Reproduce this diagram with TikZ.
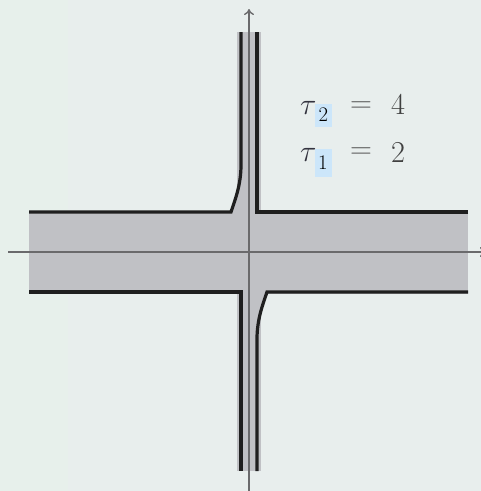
\documentclass[tikz,border=0pt]{standalone}
\usepackage{graphicx}
\usepackage{xcolor}
\usetikzlibrary{arrows.meta}
\definecolor{bgA}{HTML}{E7F0EB}
\definecolor{bgB}{HTML}{E8EEED}
\definecolor{band}{HTML}{C0C1C5}
\definecolor{axisc}{HTML}{6A6A6C}
\definecolor{hl}{HTML}{CCE6FA}
\definecolor{taucol}{HTML}{33333F}
\definecolor{eqcol}{HTML}{5E5E5E}
\definecolor{digcol}{HTML}{404040}
\newcommand{\lblmath}[1]{\scalebox{1.22}{\Huge$#1$}}
\begin{document}
\begin{tikzpicture}[x=1pt,y=-1pt,
  axisline/.style={draw=axisc,line width=1.4pt},
  edgeline/.style={draw=black!88,line width=3.2pt},
  bigtxt/.style={inner sep=0pt},
  subbox/.style={fill=hl,inner sep=0pt,minimum width=17pt,minimum height=23pt,font=\huge,text=black},
  eqsign/.style={bigtxt,text=eqcol,anchor=center},
  digit/.style={bigtxt,text=digcol,anchor=base west},
  taus/.style={bigtxt,text=taucol,anchor=base west}]
\useasboundingbox (0,0) rectangle (481,491);
\fill[bgB] (0,0) rectangle (481,491);
\fill[bgA] (0,0) rectangle (68,491);
% coordinates
\coordinate (xl) at (8,252);
\coordinate (xr) at (486,252);
\coordinate (yb) at (249,495);
\coordinate (yt) at (249,9);
% gray band
\fill[band] (29,210.5) rectangle (468,293.5);
\fill[band] (237,32) rectangle (261,471);
\fill[band] (231,212) .. controls (235,200) and (241,185) .. (241,165) -- (249,165) -- (249,212) -- cycle;
\fill[band] (267,292) .. controls (263,304) and (257,319) .. (257,339) -- (249,339) -- (249,292) -- cycle;
% axes
\draw[axisline,-{To[length=6pt,width=10pt]}] (xl) -- (xr);
\draw[axisline,-{To[length=6pt,width=10pt]}] (yb) -- (yt);
% boundary lines
\draw[edgeline] (29,212) -- (231,212) .. controls (235,200) and (241,185) .. (241,165) -- (241,32);
\draw[edgeline] (468,212) -- (257,212) -- (257,32);
\draw[edgeline] (29,292) -- (241,292) -- (241,471);
\draw[edgeline] (468,292) -- (267,292) .. controls (263,304) and (257,319) .. (257,339) -- (257,471);
% labels
\node[taus] (t2) at (300,114) {\lblmath{\tau}};
\node[subbox] (s2) at (323.5,115) {2};
\node[eqsign] (e2) at (361,107) {\lblmath{=}};
\node[digit] (d2) at (391,114) {\lblmath{4}};
\node[taus] (t1) at (300,161) {\lblmath{\tau}};
\node[subbox,minimum height=28pt] (s1) at (323,163) {1};
\node[eqsign] (e1) at (361,153) {\lblmath{=}};
\node[digit] (d1) at (391,162) {\lblmath{2}};
\end{tikzpicture}
\end{document}
